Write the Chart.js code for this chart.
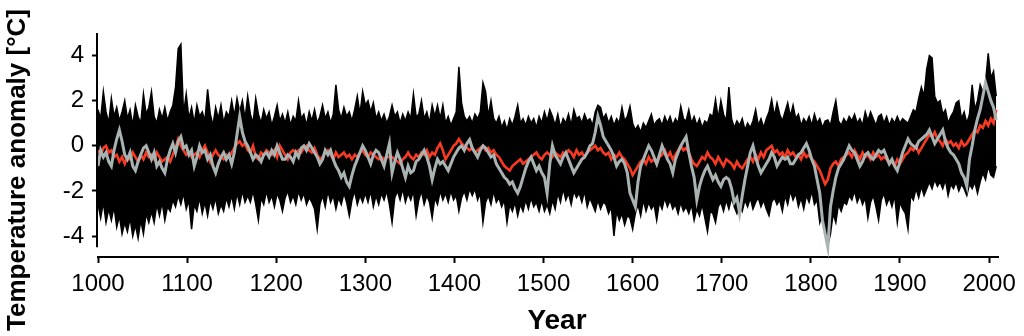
<!DOCTYPE html>
<html><head><meta charset="utf-8">
<script src="https://cdn.jsdelivr.net/npm/chart.js@4.4.1/dist/chart.umd.min.js"></script>
<style>html,body{margin:0;padding:0;background:#fff;}#wrap{width:1024px;height:336px;}</style>
</head><body><div id="wrap"><canvas id="c" width="1024" height="336"></canvas></div>
<script>
const FONT = '"Liberation Sans", Arial, Helvetica, sans-serif';
const FIRST_YEAR = 1000, STEP = 3, N = 337;
const years = []; for (let i = 0; i < N; i++) years.push(FIRST_YEAR + i * STEP);
const xTicks = [1000,1100,1200,1300,1400,1500,1600,1700,1800,1900,2000];
const yTicks = [-4,-3,-2,-1,0,1,2,3,4];
const yLabels = [-4,-2,0,2,4];

// upper edge of the black ensemble band
const upper = [
1.6,1.2,2.4,1.5,1.0,2.1,1.3,1.7,1.1,1.5,
2.0,1.2,1.6,0.9,1.8,1.3,1.0,2.3,1.4,1.7,
2.4,1.3,1.0,1.6,1.2,1.7,1.1,1.5,1.8,2.6,
4.3,4.5,1.4,2.3,1.2,1.7,1.0,1.8,1.3,1.5,
1.1,2.5,1.4,0.9,1.7,1.2,1.8,1.0,1.5,1.3,
2.0,1.3,2.1,1.5,2.0,1.2,2.2,1.4,1.0,2.1,
1.4,1.0,1.6,1.2,1.5,0.9,1.3,1.8,1.1,1.4,
1.0,1.5,0.9,1.3,1.1,2.0,1.2,1.4,0.9,1.5,
1.1,1.6,1.0,1.3,1.8,1.2,1.5,1.0,1.4,2.7,
1.6,1.2,1.7,1.3,1.5,1.1,1.6,2.2,1.4,2.4,
1.8,2.0,1.5,1.9,1.2,1.5,1.1,1.4,1.0,1.3,
1.8,1.3,1.5,1.0,1.4,1.1,1.5,1.2,2.3,1.3,
1.4,2.0,1.2,1.5,1.0,1.8,1.3,1.8,1.2,1.8,
1.0,1.3,0.9,1.2,1.5,3.5,1.9,1.3,1.1,1.3,
1.0,1.4,1.2,1.5,2.8,2.4,1.3,2.0,1.2,1.0,
1.3,0.8,1.1,0.7,1.2,0.9,1.3,1.8,1.0,1.2,
0.9,1.3,1.0,1.2,0.8,1.3,1.0,1.5,1.1,1.6,
1.3,0.9,1.4,0.8,1.2,1.0,1.4,0.9,1.6,1.2,
1.3,1.0,1.4,1.1,1.2,0.9,1.5,1.8,1.7,1.2,
1.4,1.0,1.3,0.9,1.2,1.0,1.7,1.1,1.3,1.75,
1.0,0.7,0.9,0.6,1.0,0.8,1.1,1.4,0.9,1.1,
1.2,0.9,1.3,1.0,1.3,0.9,1.2,1.0,1.75,1.2,
1.1,1.6,1.0,1.3,0.9,1.2,0.8,1.1,1.0,1.4,
1.3,2.05,1.2,2.0,1.4,1.1,2.6,1.2,0.8,1.1,
0.9,1.2,0.7,1.0,0.8,1.1,1.6,0.9,1.2,0.8,
1.2,1.5,2.05,1.3,1.9,1.4,1.1,1.5,1.9,1.3,
1.8,1.2,1.4,0.9,1.2,1.0,1.3,0.9,1.4,1.0,
1.2,0.8,1.1,1.15,0.9,1.5,2.0,1.1,0.9,1.2,
1.0,1.3,1.1,1.4,1.0,1.2,0.9,1.5,1.1,1.5,
1.2,0.9,1.3,1.4,1.0,1.3,0.9,1.2,1.0,1.3,
1.0,1.2,1.1,1.0,1.3,1.6,1.5,2.1,2.6,2.2,
3.4,4.0,3.9,2.2,1.9,2.0,1.4,1.6,1.0,1.3,
1.5,1.9,2.0,1.2,1.5,1.0,1.4,2.7,1.6,2.0,
2.7,2.4,2.8,4.1,3.0,3.3,2.2];

// lower edge of the black ensemble band
const lower = [
-2.6,-3.2,-2.5,-3.4,-2.8,-3.3,-2.7,-3.6,-3.1,-3.9,
-3.4,-3.8,-3.2,-4.0,-3.5,-4.1,-3.3,-3.9,-3.0,-3.4,
-2.9,-3.4,-2.6,-3.1,-2.5,-3.3,-2.7,-2.9,-2.4,-2.7,
-2.2,-2.6,-2.1,-2.8,-2.4,-3.7,-2.6,-2.9,-2.3,-3.0,
-2.5,-3.1,-2.4,-2.8,-2.3,-3.0,-2.6,-2.9,-2.3,-2.7,
-2.2,-2.8,-2.1,-2.6,-2.0,-2.5,-2.2,-2.5,-2.0,-2.6,
-3.3,-2.3,-2.6,-2.0,-2.5,-2.2,-2.7,-2.1,-2.4,-2.9,
-2.3,-2.0,-2.5,-2.2,-2.6,-2.0,-2.4,-2.1,-2.6,-2.3,
-2.5,-2.8,-3.7,-2.6,-2.2,-2.7,-2.0,-2.5,-2.2,-2.8,
-2.3,-2.6,-2.1,-2.5,-3.1,-2.4,-2.0,-2.6,-2.2,-2.5,
-2.1,-2.5,-2.0,-2.7,-2.2,-2.6,-2.1,-2.4,-2.0,-2.6,
-3.4,-2.3,-2.0,-2.4,-1.9,-2.5,-2.1,-2.4,-2.0,-3.1,
-2.4,-2.0,-2.6,-2.2,-2.5,-3.2,-2.3,-2.6,-2.0,-2.4,
-2.1,-2.5,-2.0,-2.4,-2.2,-2.9,-2.3,-2.0,-2.4,-1.9,
-2.2,-1.9,-2.4,-2.1,-3.4,-2.5,-2.2,-2.6,-2.0,-2.5,
-2.3,-2.7,-2.4,-3.4,-2.6,-2.9,-2.5,-3.1,-2.6,-2.9,
-2.4,-2.8,-2.3,-2.7,-2.5,-2.9,-2.4,-2.9,-2.6,-3.0,
-2.4,-2.8,-2.1,-2.5,-1.9,-2.4,-2.1,-2.6,-2.0,-2.3,
-2.1,-2.5,-2.0,-2.7,-2.3,-2.6,-2.9,-2.4,-2.8,-2.5,
-2.6,-3.0,-2.7,-4.0,-2.9,-3.3,-3.0,-3.5,-3.1,-3.2,
-3.7,-3.0,-2.6,-3.1,-2.4,-2.9,-2.5,-2.8,-2.6,-3.3,
-2.5,-2.8,-2.3,-2.7,-2.4,-2.8,-2.6,-3.0,-2.5,-2.9,
-2.7,-3.0,-2.6,-3.3,-2.8,-3.1,-2.6,-3.2,-3.8,-2.9,
-3.0,-3.4,-2.7,-2.5,-2.9,-2.4,-2.8,-2.3,-2.7,-3.0,
-2.6,-2.9,-2.4,-2.7,-2.3,-2.8,-2.5,-2.3,-2.7,-2.4,
-2.8,-3.1,-2.5,-2.3,-2.6,-2.4,-2.9,-2.2,-2.6,-2.0,
-2.4,-2.1,-2.7,-2.3,-2.8,-2.2,-2.5,-2.0,-2.6,-2.4,
-3.4,-3.0,-3.6,-4.4,-3.9,-3.0,-3.4,-2.6,-2.9,-2.5,
-2.6,-2.2,-2.4,-2.0,-2.5,-2.2,-2.6,-2.3,-3.2,-2.5,
-2.2,-2.7,-3.3,-2.4,-2.1,-2.6,-2.3,-2.7,-2.2,-3.4,
-2.5,-2.8,-3.0,-3.7,-2.2,-2.4,-1.9,-2.3,-1.8,-2.2,
-1.9,-1.6,-1.9,-1.5,-1.8,-1.6,-1.9,-1.5,-2.2,-1.7,
-1.9,-1.6,-2.0,-1.7,-1.9,-2.2,-1.7,-1.9,-1.6,-2.1,
-1.6,-1.2,-1.5,-0.9,-1.3,-1.4,-0.9];

// red series
const red = [
-0.2,-0.4,-0.1,0.0,-0.3,-0.2,-0.5,-0.4,-0.7,-0.5,
-0.8,-0.5,-0.6,-0.3,-0.5,-0.7,-0.4,-0.6,-0.3,-0.5,
-0.4,-0.6,-0.3,-0.5,-0.7,-0.6,-0.5,-0.7,-0.4,-0.1,
0.3,0.0,-0.2,-0.4,-0.3,-0.5,-0.4,-0.3,-0.5,-0.2,
0.0,-0.3,-0.7,-0.4,-0.2,-0.4,-0.5,-0.6,-0.4,-0.5,
-0.3,-0.1,0.1,0.2,0.0,0.1,-0.2,-0.3,0.0,-0.5,
-0.6,-0.3,-0.4,-0.2,-0.3,-0.4,-0.2,-0.5,0.0,-0.2,
-0.4,-0.6,-0.3,-0.2,-0.3,-0.2,-0.3,-0.1,0.0,-0.2,
-0.3,-0.1,-0.4,-0.6,-0.5,-0.3,-0.2,-0.4,-0.6,-0.3,
-0.5,-0.4,-0.3,-0.5,-0.4,-0.6,-0.4,-0.5,-0.3,-0.2,
-0.4,-0.5,-0.3,-0.4,-0.5,-0.6,-0.5,-0.6,-0.5,-0.5,
-0.5,-0.6,-0.7,-0.8,-0.6,-0.5,-0.3,-0.5,-0.6,-0.4,
-0.5,-0.3,-0.4,-0.2,-0.5,-0.3,-0.4,-0.1,0.1,-0.2,
-0.6,-0.4,-0.2,0.0,0.1,0.3,0.1,0.0,-0.1,-0.2,
-0.1,-0.3,-0.2,-0.1,0.0,-0.2,-0.1,-0.3,-0.2,-0.4,
-0.5,-0.7,-0.9,-1.0,-1.1,-0.9,-0.8,-0.7,-0.6,-0.8,
-0.7,-0.6,-0.5,-0.4,-0.3,-0.5,-0.6,-0.4,-0.3,-0.4,
-0.5,-0.3,-0.4,-0.5,-0.3,-0.4,-0.2,-0.3,-0.5,-0.2,
-0.4,-0.3,-0.5,-0.3,-0.2,-0.1,0.0,-0.2,-0.1,-0.3,
-0.4,-0.3,-0.6,-0.4,-0.5,-0.3,-0.5,-0.6,-0.8,-1.0,
-1.3,-1.1,-0.9,-0.7,-0.6,-0.8,-0.5,-0.7,-0.6,-0.8,
-0.5,-0.4,-0.2,-0.5,-0.3,-0.6,-0.4,-0.2,0.0,-0.2,
-0.1,-0.3,-0.6,-0.8,-0.9,-0.7,-0.5,-0.6,-0.3,-0.5,
-0.6,-0.8,-0.5,-0.7,-0.9,-0.6,-0.7,-0.8,-1.0,-0.7,
-0.9,-1.0,-0.8,-0.6,-0.5,-0.7,-0.4,-0.6,-0.3,-0.5,
-0.2,-0.1,0.0,-0.3,-0.2,-0.4,-0.3,-0.5,-0.2,-0.4,
-0.3,-0.5,-0.4,-0.6,-0.3,-0.5,-0.4,-0.6,-0.7,-0.9,
-1.1,-1.4,-1.7,-1.5,-1.0,-0.8,-0.7,-0.9,-0.6,-0.5,
-0.4,-0.3,-0.5,-0.2,-0.4,-0.6,-0.3,-0.5,-0.4,-0.6,
-0.3,-0.5,-0.4,-0.6,-0.5,-0.6,-0.8,-0.7,-0.9,-0.6,
-0.8,-0.6,-0.4,-0.3,-0.1,-0.2,0.0,-0.3,-0.1,0.1,
0.3,0.5,0.4,0.6,0.3,0.2,0.0,0.3,0.1,0.2,
0.0,0.1,-0.1,0.2,0.0,0.1,0.3,0.5,0.7,0.6,
0.9,0.8,1.1,0.9,1.2,1.0,1.6];

// grey series
const grey = [
-0.9,-0.2,-0.5,-0.3,-0.7,-0.9,-0.2,0.3,0.7,0.2,
-0.4,-0.6,-0.3,-0.9,-1.1,-0.7,-0.4,-0.1,0.0,-0.3,
-0.6,-0.3,-0.9,-0.7,-1.0,-1.2,-0.6,-0.2,0.1,-0.3,
0.2,0.4,-0.1,0.0,-0.4,-0.2,-0.9,-0.5,0.0,-0.3,
-0.2,-0.6,-0.4,-0.9,-1.2,-0.8,-0.5,-0.3,-0.6,-0.4,
-0.8,-0.3,0.5,1.3,0.6,0.2,0.0,-0.3,-0.6,-0.4,
-0.5,-0.7,-0.4,-0.3,-0.5,-0.2,-0.4,0.0,-0.3,-0.6,
-0.6,-0.4,-0.5,-0.7,-0.3,-0.5,-0.1,0.0,-0.2,0.1,
-0.1,-0.3,-0.5,-0.8,-0.6,-0.2,-0.4,-0.2,-0.6,-0.9,
-1.1,-1.4,-1.2,-1.6,-1.8,-1.3,-0.9,-0.6,-0.3,0.0,
-0.2,-0.5,-0.8,-0.4,-0.2,-0.3,-0.6,-0.9,-0.4,0.1,
-1.2,-0.7,-0.3,-0.6,-1.0,-1.4,-0.9,-1.2,-1.1,-0.7,
-0.6,-0.4,-0.2,-0.5,-0.9,-1.5,-1.0,-0.6,-0.8,-0.7,
-0.9,-1.1,-0.8,-0.5,-0.3,-0.1,0.0,-0.2,0.1,0.27,
-0.1,-0.3,-0.5,-0.2,0.0,-0.1,-0.3,-0.5,-0.4,-0.8,
-1.0,-1.2,-1.4,-1.5,-1.7,-1.6,-1.9,-2.1,-1.8,-1.4,
-1.0,-0.7,-0.5,-0.8,-1.1,-0.9,-1.2,-1.4,-2.1,-0.8,
0.0,-0.4,-0.6,-0.8,-0.5,-0.3,-0.6,-0.9,-1.2,-1.0,
-0.8,-0.6,-0.5,-0.3,0.0,0.1,0.6,1.3,0.9,0.4,
0.2,0.0,-0.2,-0.5,-0.9,-0.7,-0.6,-0.8,-1.2,-2.1,
-2.4,-2.7,-1.6,-0.9,-0.6,-0.3,0.0,-0.2,-0.5,-0.8,
-0.4,0.0,-0.3,-0.6,-0.8,-1.2,-0.6,-0.3,0.0,0.2,
0.4,-0.3,-0.9,-1.4,-2.4,-1.8,-1.4,-1.1,-0.9,-1.2,
-1.5,-1.3,-1.6,-1.8,-1.5,-1.4,-1.5,-1.9,-2.5,-2.3,
-3.0,-2.2,-1.5,-0.9,-0.3,0.0,-0.5,-0.9,-1.2,-1.0,
-0.8,-0.6,-0.3,-0.5,-0.9,-0.7,-0.5,-0.6,-0.5,-0.8,
-0.8,-0.6,-0.4,-0.3,-0.1,0.1,-0.2,-0.6,-0.9,-1.5,
-2.1,-3.3,-3.9,-4.5,-2.7,-2.0,-1.4,-1.0,-0.8,-0.6,
-0.3,0.0,-0.2,-0.3,-0.6,-0.9,-0.7,-0.4,-0.3,-0.5,
-0.6,-0.4,-0.2,-0.3,-0.2,-0.5,-0.8,-0.6,-0.9,-1.1,
-0.7,-0.3,0.0,0.3,0.1,0.0,-0.1,0.2,0.3,0.4,
0.5,0.7,0.4,0.1,0.3,0.5,0.7,0.2,-0.1,-0.3,
-0.4,-0.6,-0.8,-1.2,-1.4,-1.8,-0.6,0.0,0.7,1.2,
1.6,2.2,2.8,2.4,2.0,1.7,1.15];

const pts = arr => years.map((x, i) => ({ x: x, y: arr[i] }));

const axisAndTitles = {
  id: 'axisAndTitles',
  afterDraw(chart) {
    const ctx = chart.ctx, y = chart.scales.y, area = chart.chartArea;
    ctx.save();
    // detached y-axis line spanning 5 to -4.5
    ctx.strokeStyle = '#000'; ctx.lineWidth = 2;
    ctx.beginPath();
    ctx.moveTo(area.left - 1, y.getPixelForValue(5));
    ctx.lineTo(area.left - 1, y.getPixelForValue(-4.5));
    ctx.stroke();
    ctx.fillStyle = '#000';
    ctx.textAlign = 'center'; ctx.textBaseline = 'alphabetic';
    ctx.font = 'bold 28px ' + FONT;
    ctx.fillText('Year', 557, 329);
    ctx.translate(25, 170);
    ctx.rotate(-Math.PI / 2);
    ctx.font = 'bold 26px ' + FONT;
    ctx.fillText('Temperature anomaly [°C]', 0, 0);
    ctx.restore();
  }
};

new Chart(document.getElementById('c'), {
  type: 'line',
  data: {
    datasets: [
      { data: pts(upper), borderColor: '#000', backgroundColor: '#000', borderWidth: 1.5, fill: '+1', order: 4 },
      { data: pts(lower), borderColor: '#000', borderWidth: 1.5, fill: false, order: 3 },
      { data: pts(red), borderColor: '#f83a22', borderWidth: 2.6, fill: false, order: 2 },
      { data: pts(grey), borderColor: '#a9b3b2', borderWidth: 3, fill: false, order: 1 }
    ]
  },
  options: {
    responsive: false, animation: false, events: [],
    layout: { padding: { top: 33, right: 26, left: 0, bottom: 0 } },
    plugins: { legend: { display: false }, tooltip: { enabled: false } },
    elements: { point: { radius: 0 }, line: { tension: 0 } },
    scales: {
      x: {
        type: 'linear', min: 1000, max: 2010,
        afterBuildTicks: s => { s.ticks = xTicks.map(v => ({ value: v })); },
        afterFit: s => { s.height = 79; },
        ticks: { autoSkip: false, maxRotation: 0, padding: 7, color: '#000', font: { size: 24, family: FONT }, callback: v => String(v) },
        grid: { drawOnChartArea: false, drawTicks: true, tickLength: 6, tickWidth: 2, tickColor: '#000' },
        border: { display: true, color: '#000', width: 2 }
      },
      y: {
        type: 'linear', min: -4.93, max: 5,
        afterBuildTicks: s => { s.ticks = yTicks.map(v => ({ value: v })); },
        afterFit: s => { s.width = 98; },
        ticks: { padding: 8, color: '#000', font: { size: 24, family: FONT }, callback: v => yLabels.includes(v) ? String(v) : '' },
        grid: { drawOnChartArea: false, drawTicks: true, tickLength: 6, tickWidth: 2, tickColor: '#000' },
        border: { display: false }
      }
    }
  },
  plugins: [axisAndTitles]
});
</script>
</body></html>
